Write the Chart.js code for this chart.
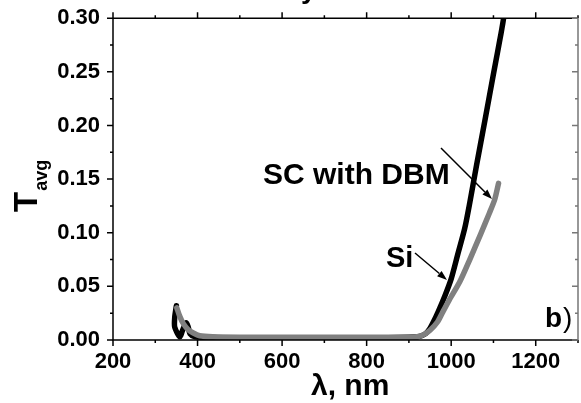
<!DOCTYPE html>
<html>
<head>
<meta charset="utf-8">
<script src="https://cdn.jsdelivr.net/npm/chart.js@4.4.1/dist/chart.umd.min.js"></script>
<style>
  html, body { margin: 0; padding: 0; background: #fff; }
  canvas { display: block; }
</style>
</head>
<body>
<canvas id="myChart" width="581" height="403"></canvas>
<script>
// Wavelengths (nm) and averaged transmission for the two samples
const scWavelength = [350, 346, 346, 358, 365, 373, 378, 382, 394, 420, 500, 600, 700, 800, 900, 920, 930, 940, 950, 957, 970, 985, 1000, 1015, 1032, 1044, 1060, 1080, 1100, 1110, 1118, 1122, 1124];
const scValues     = [0.032, 0.021, 0.012, 0.003, 0.0095, 0.016, 0.012, 0.006, 0.003, 0.0025, 0.002, 0.002, 0.002, 0.002, 0.0025, 0.003, 0.004, 0.006, 0.011, 0.016, 0.027, 0.041, 0.057, 0.079, 0.104, 0.128, 0.163, 0.205, 0.248, 0.269, 0.286, 0.295, 0.30];

const siWavelength = [351, 358, 366, 378, 390, 405, 436, 500, 600, 700, 800, 900, 920, 935, 950, 968, 980, 995, 1020, 1044, 1070, 1090, 1103, 1112];
const siValues     = [0.030, 0.022, 0.0155, 0.0096, 0.0065, 0.004, 0.003, 0.0026, 0.0025, 0.0025, 0.0025, 0.0025, 0.003, 0.005, 0.009, 0.017, 0.026, 0.037, 0.054, 0.075, 0.099, 0.118, 0.131, 0.146];

const xTicks = [200, 400, 600, 800, 1000, 1200];
const yTicks = [0.00, 0.05, 0.10, 0.15, 0.20, 0.25, 0.30];

const FONT = '"Liberation Sans", Arial, sans-serif';

function toPoints(xs, ys) {
    return xs.map((x, i) => ({ x: x, y: ys[i] }));
}

// Frame, tick marks, axis titles and the text labels with arrows
const decorations = {
    id: 'decorations',
    afterDraw(chart) {
        const ctx = chart.ctx;
        const x = chart.scales.x;
        const y = chart.scales.y;
        const a = chart.chartArea;

        ctx.save();
        ctx.lineWidth = 1.5;
        ctx.strokeStyle = '#000';

        // frame
        ctx.beginPath();
        ctx.moveTo(a.left, a.top);
        ctx.lineTo(a.left, a.bottom);
        ctx.lineTo(a.right, a.bottom);
        ctx.moveTo(a.left, a.top);
        ctx.lineTo(a.right, a.top);
        ctx.stroke();

        // x ticks every 100 nm, bottom (outward) and top (outward)
        ctx.beginPath();
        for (let v = 200; v <= 1300; v += 100) {
            const px = x.getPixelForValue(v);
            const len = xTicks.includes(v) ? 6 : 3;
            ctx.moveTo(px, a.bottom);
            ctx.lineTo(px, a.bottom + len);
            ctx.moveTo(px, a.top);
            ctx.lineTo(px, a.top - len);
        }
        // y ticks every 0.025 on the left (outward)
        for (let k = 0; k <= 12; k++) {
            const py = y.getPixelForValue(k * 0.025);
            const len = k % 2 === 0 ? 6 : 3;
            ctx.moveTo(a.left, py);
            ctx.lineTo(a.left - len, py);
        }
        ctx.stroke();

        // right side, lighter, ticks pointing inward
        ctx.strokeStyle = '#777';
        ctx.beginPath();
        ctx.moveTo(a.right, a.top);
        ctx.lineTo(a.right, a.bottom);
        for (let k = 0; k <= 12; k++) {
            const py = y.getPixelForValue(k * 0.025);
            const len = k % 2 === 0 ? 6 : 3;
            ctx.moveTo(a.right, py);
            ctx.lineTo(a.right - len, py);
        }
        ctx.stroke();

        ctx.fillStyle = '#000';
        ctx.textBaseline = 'alphabetic';
        ctx.textAlign = 'left';

        // x axis title
        ctx.font = 'bold 30px ' + FONT;
        ctx.fillText('λ, nm', 311, 395);

        // y axis title T with subscript avg
        ctx.save();
        ctx.translate(37, 212);
        ctx.rotate(-Math.PI / 2);
        ctx.font = 'bold 33px ' + FONT;
        ctx.fillText('T', 0, 0);
        const tw = ctx.measureText('T').width;
        ctx.font = 'bold 18px ' + FONT;
        ctx.fillText('avg', tw + 1, 10);
        ctx.restore();

        // heading descender showing at the top edge
        ctx.font = 'bold 28px ' + FONT;
        ctx.fillText('y', 301, -2);

        // curve labels
        ctx.font = 'bold 30px ' + FONT;
        ctx.fillText('SC with DBM', 263, 184);
        ctx.font = 'bold 29px ' + FONT;
        ctx.fillText('Si', 386, 267);

        // panel letter
        ctx.font = 'bold 28px ' + FONT;
        ctx.fillText('b', 545, 327);
        ctx.font = '28px ' + FONT;
        ctx.fillText(')', 563, 327);

        drawArrow(ctx, 441, 148, 492, 199);
        drawArrow(ctx, 415, 253, 447, 280);

        ctx.restore();
    }
};

function drawArrow(ctx, x1, y1, x2, y2) {
    const ang = Math.atan2(y2 - y1, x2 - x1);
    const head = 10;
    const half = 3.5;
    ctx.strokeStyle = '#000';
    ctx.lineWidth = 1.5;
    ctx.beginPath();
    ctx.moveTo(x1, y1);
    ctx.lineTo(x2 - head * Math.cos(ang), y2 - head * Math.sin(ang));
    ctx.stroke();
    ctx.beginPath();
    ctx.moveTo(x2, y2);
    ctx.lineTo(x2 - head * Math.cos(ang) + half * Math.sin(ang), y2 - head * Math.sin(ang) - half * Math.cos(ang));
    ctx.lineTo(x2 - head * Math.cos(ang) - half * Math.sin(ang), y2 - head * Math.sin(ang) + half * Math.cos(ang));
    ctx.closePath();
    ctx.fillStyle = '#000';
    ctx.fill();
}

const ctx = document.getElementById('myChart').getContext('2d');
new Chart(ctx, {
    type: 'line',
    data: {
        datasets: [
            {
                label: 'Si',
                data: toPoints(siWavelength, siValues),
                borderColor: '#808080',
                borderWidth: 5.5,
                pointRadius: 0,
                tension: 0.25,
                borderCapStyle: 'round',
                borderJoinStyle: 'round',
                order: 1
            },
            {
                label: 'SC with DBM',
                data: toPoints(scWavelength, scValues),
                borderColor: '#000000',
                borderWidth: 5.5,
                pointRadius: 0,
                tension: 0.25,
                borderCapStyle: 'round',
                borderJoinStyle: 'round',
                order: 2
            }
        ]
    },
    options: {
        responsive: false,
        animation: false,
        devicePixelRatio: 1,
        layout: { padding: { top: 14, right: 3, left: 0, bottom: 0 } },
        plugins: {
            legend: { display: false },
            tooltip: { enabled: false }
        },
        scales: {
            x: {
                type: 'linear',
                min: 200,
                max: 1300,
                grid: { display: false },
                border: { display: false },
                ticks: {
                    stepSize: 100,
                    autoSkip: false,
                    maxRotation: 0,
                    padding: 1,
                    color: '#000',
                    font: { family: FONT, size: 22, weight: 'bold' },
                    callback: v => xTicks.includes(v) ? String(v) : ''
                },
                afterFit: s => { s.height = 63; }
            },
            y: {
                min: 0,
                max: 0.3,
                grid: { display: false },
                border: { display: false },
                ticks: {
                    stepSize: 0.05,
                    padding: 5,
                    color: '#000',
                    font: { family: FONT, size: 22, weight: 'bold' },
                    callback: v => Number(v).toFixed(2)
                },
                afterFit: s => { s.width = 113; }
            }
        }
    },
    plugins: [decorations]
});
</script>
</body>
</html>
